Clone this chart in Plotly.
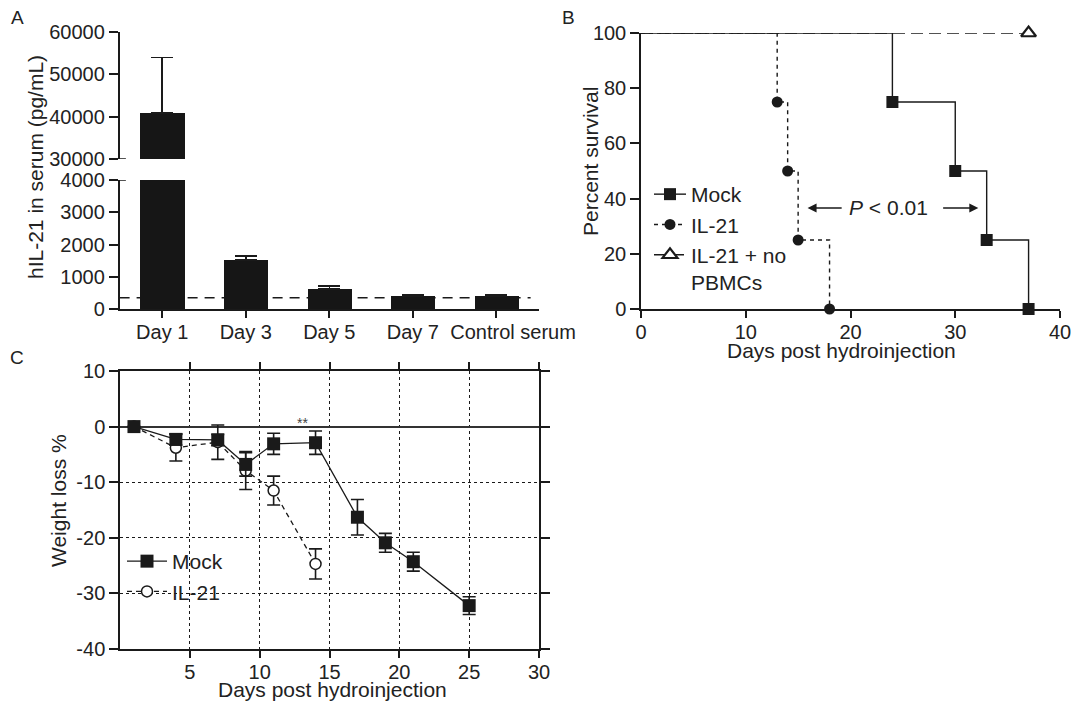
import plotly.graph_objects as go

# ---------------- Panel A data ----------------
a_categories = ["Day 1", "Day 3", "Day 5", "Day 7", "Control serum"]
a_values = [40800, 1520, 615, 400, 400]
a_errors = [13200, 125, 95, 30, 30]
a_detection_limit = 350
a_low_range = [0, 4000]
a_high_range = [30000, 60000]
a_low_ticks = [0, 1000, 2000, 3000, 4000]
a_high_ticks = [30000, 40000, 50000, 60000]

# ---------------- Panel B data ----------------
b_mock_days = [0, 24, 30, 33, 37]
b_mock_surv = [100, 75, 50, 25, 0]
b_il21_days = [0, 13, 14, 15, 18]
b_il21_surv = [100, 75, 50, 25, 0]
b_nopbmc_days = [0, 37]
b_nopbmc_surv = [100, 100]
b_x_ticks = [0, 10, 20, 30, 40]
b_y_ticks = [0, 20, 40, 60, 80, 100]

# ---------------- Panel C data ----------------
c_mock_days = [1, 4, 7, 9, 11, 14, 17, 19, 21, 25]
c_mock_weight = [0, -2.3, -2.4, -6.8, -3.1, -2.9, -16.3, -20.9, -24.3, -32.2]
c_mock_err = [0, 1.0, 1.0, 2.1, 1.9, 2.1, 3.2, 1.7, 1.7, 1.6]
c_il21_days = [1, 4, 7, 9, 11, 14]
c_il21_weight = [0, -3.8, -2.8, -7.9, -11.5, -24.7]
c_il21_err = [0, 2.4, 3.1, 3.4, 2.6, 2.7]
c_x_ticks = [5, 10, 15, 20, 25, 30]
c_y_ticks = [-40, -30, -20, -10, 0, 10]

FONT = "Liberation Sans, Arial, Helvetica, sans-serif"
INK = "#1a1a1a"
W, H = 1072, 701

fig = go.Figure()

# ---------- Panel A: broken-axis bars ----------
fig.add_trace(go.Bar(
    x=a_categories, y=a_values, width=0.53,
    marker=dict(color="#161616", line=dict(width=0)),
    error_y=dict(type="data", symmetric=False, array=a_errors,
                 arrayminus=[0] * len(a_errors), color=INK, thickness=1.6, width=11),
    xaxis="x", yaxis="y", showlegend=False))
hi_cats = [c for c, v in zip(a_categories, a_values) if v > a_high_range[0]]
hi_vals = [v for v in a_values if v > a_high_range[0]]
hi_errs = [e for v, e in zip(a_values, a_errors) if v > a_high_range[0]]
fig.add_trace(go.Bar(
    x=hi_cats, y=hi_vals, width=0.53,
    marker=dict(color="#161616", line=dict(width=0)),
    error_y=dict(type="data", symmetric=False, array=hi_errs,
                 arrayminus=[0] * len(hi_errs), color=INK, thickness=1.6, width=11),
    xaxis="x", yaxis="y2", showlegend=False))

# ---------- Panel B: survival step curves ----------
def step_pair(days, surv, dash, symbol, size, fill, lw_marker, name, rank):
    fig.add_trace(go.Scatter(
        x=days, y=surv, mode="lines", line=dict(shape="hv", color=INK, width=1.4, dash=dash),
        xaxis="x3", yaxis="y3", showlegend=False, cliponaxis=False, hoverinfo="skip"))
    fig.add_trace(go.Scatter(
        x=days[1:], y=surv[1:], mode="markers",
        marker=dict(symbol=symbol, size=size, color=fill, line=dict(color=INK, width=lw_marker)),
        xaxis="x3", yaxis="y3", showlegend=False, cliponaxis=False))
    fig.add_trace(go.Scatter(
        x=[None], y=[None], mode="lines+markers", name=name, legend="legend", legendrank=rank,
        line=dict(color=INK, width=1.4, dash=dash),
        marker=dict(symbol=symbol, size=size, color=fill, line=dict(color=INK, width=lw_marker)),
        xaxis="x3", yaxis="y3"))

step_pair(b_nopbmc_days, b_nopbmc_surv, "12px,6px", "triangle-up", 13, "white", 2.2,
          "IL-21 + no<br>PBMCs", 3)
step_pair(b_il21_days, b_il21_surv, "4px,4px", "circle", 11, INK, 0, "IL-21", 2)
step_pair(b_mock_days, b_mock_surv, "solid", "square", 12, INK, 0, "Mock", 1)

# ---------- Panel C: weight loss ----------
fig.add_trace(go.Scatter(
    x=c_il21_days, y=c_il21_weight, mode="lines+markers", name="IL-21",
    legend="legend2", legendrank=2,
    line=dict(color=INK, width=1.3, dash="5px,4px"),
    marker=dict(symbol="circle", size=11, color="white", line=dict(color=INK, width=1.5)),
    error_y=dict(type="data", array=c_il21_err, color=INK, thickness=1.6, width=6.5),
    xaxis="x4", yaxis="y4", cliponaxis=False))
fig.add_trace(go.Scatter(
    x=c_mock_days, y=c_mock_weight, mode="lines+markers", name="Mock",
    legend="legend2", legendrank=1,
    line=dict(color=INK, width=1.3),
    marker=dict(symbol="square", size=13, color=INK, line=dict(width=0)),
    error_y=dict(type="data", array=c_mock_err, color=INK, thickness=1.6, width=6.5),
    xaxis="x4", yaxis="y4", cliponaxis=False))

def px_x(p):
    return p / W

def px_y(p):
    return (H - p) / H

def txt(vals):
    return [str(v) for v in vals]

# last category label sits offset to the right in the original figure
a_ticktext = a_categories[:-1] + ["\u00a0" * 6 + a_categories[-1]]

tickfont = dict(family=FONT, size=20, color="#222")
common = dict(showline=True, linecolor=INK, linewidth=1.5, ticks="outside", tickcolor=INK,
              tickwidth=1.5, ticklen=9, tickfont=tickfont, showgrid=False, zeroline=False,
              automargin=False)
xcommon = {**common, "ticklen": 7}

fig.update_layout(
    width=W, height=H, margin=dict(l=0, r=0, t=0, b=0, autoexpand=False),
    paper_bgcolor="white", plot_bgcolor="rgba(0,0,0,0)",
    font=dict(family=FONT, color="#222"),
    bargap=0,
    xaxis=dict(domain=[px_x(119.6), px_x(539)], anchor="y", type="category",
               range=[-0.51, 4.51], tickangle=0, tickvals=a_categories, ticktext=a_ticktext,
               **xcommon),
    yaxis=dict(domain=[px_y(309), px_y(180)], anchor="x", range=a_low_range,
               tickvals=a_low_ticks, ticktext=txt(a_low_ticks), **common),
    yaxis2=dict(domain=[px_y(159), px_y(32)], anchor="x", range=a_high_range,
                tickvals=a_high_ticks, ticktext=txt(a_high_ticks), **common),
    xaxis3=dict(domain=[px_x(641), px_x(1060)], anchor="y3", range=[0, 40], tickangle=0,
                tickvals=b_x_ticks, ticktext=txt(b_x_ticks), **xcommon),
    yaxis3=dict(domain=[px_y(309), px_y(33)], anchor="x3", range=[0, 100],
                tickvals=b_y_ticks, ticktext=txt(b_y_ticks), **common),
    xaxis4=dict(domain=[px_x(120), px_x(539)], anchor="y4", range=[0, 30], tickangle=0,
                tickvals=c_x_ticks, ticktext=txt(c_x_ticks), mirror="ticks",
                **{**xcommon, "showgrid": True, "gridcolor": INK, "gridwidth": 1.2, "griddash": "dot"}),
    yaxis4=dict(domain=[px_y(649), px_y(371)], anchor="x4", range=[-40, 10],
                tickvals=c_y_ticks, ticktext=txt(c_y_ticks), mirror="ticks",
                **{**common, "showgrid": True, "gridcolor": INK, "gridwidth": 1.2, "griddash": "dot",
                   "zeroline": True, "zerolinecolor": "#333", "zerolinewidth": 1.8}),
    legend=dict(x=px_x(649), y=px_y(174), xanchor="left", yanchor="top",
                bgcolor="rgba(0,0,0,0)", font=dict(family=FONT, size=21, color="#222"),
                itemwidth=32, valign="top", traceorder="normal"),
    legend2=dict(x=px_x(122), y=px_y(541), xanchor="left", yanchor="top",
                 bgcolor="rgba(0,0,0,0)", font=dict(family=FONT, size=21, color="#222"),
                 itemwidth=40, traceorder="normal"),
)

# pull x tick labels slightly closer to their axes
try:
    fig.update_xaxes(ticklabelstandoff=-3)
except Exception:
    pass

shapes = [
    # detection limit line in panel A
    dict(type="line", xref="x domain", yref="y", x0=0.0, x1=0.98,
         y0=a_detection_limit, y1=a_detection_limit, layer="below",
         line=dict(color=INK, width=1.5, dash="10px,7px")),
    # axis break marks
    dict(type="line", xref="x domain", yref="y2", x0=0, x1=0.015,
         y0=a_high_range[0], y1=a_high_range[0], line=dict(color=INK, width=1.5)),
    dict(type="line", xref="x domain", yref="y", x0=0, x1=0.015,
         y0=a_low_range[1], y1=a_low_range[1], line=dict(color=INK, width=1.5)),
]
fig.update_layout(shapes=shapes)

ann = []
def label(text, x, y, size=21, angle=0, **kw):
    ann.append(dict(text=text, x=px_x(x), y=px_y(y), xref="paper", yref="paper",
                    showarrow=False, textangle=angle, xanchor="center", yanchor="middle",
                    font=dict(family=FONT, size=size, color="#222"), **kw))

label("A", 17, 17, size=19)
label("B", 568, 17, size=19)
label("C", 17, 357, size=19)
label("hIL-21 in serum (pg/mL)", 35, 167, angle=-90)
label("Percent survival", 590, 162, angle=-90)
label("Days post hydroinjection", 841, 351)
label("Weight loss %", 58, 500, angle=-90)
label("Days post hydroinjection", 332, 689)

# P-value annotation (panel B)
ann.append(dict(text="<i>P</i> < 0.01", x=23.6, y=36.6, xref="x3", yref="y3", showarrow=False,
                font=dict(family=FONT, size=21, color="#222")))
ann.append(dict(text="", x=15.9, y=36.6, ax=19.3, ay=36.6, xref="x3", yref="y3",
                axref="x3", ayref="y3", showarrow=True, arrowhead=2, arrowsize=1.2,
                arrowwidth=1.5, arrowcolor=INK))
ann.append(dict(text="", x=32.2, y=36.6, ax=28.7, ay=36.6, xref="x3", yref="y3",
                axref="x3", ayref="y3", showarrow=True, arrowhead=2, arrowsize=1.2,
                arrowwidth=1.5, arrowcolor=INK))
# significance mark (panel C)
ann.append(dict(text="**", x=13.1, y=0, xref="x4", yref="y4", showarrow=False,
                yanchor="bottom", yshift=-6, font=dict(family=FONT, size=14, color="#444")))
fig.update_layout(annotations=ann)

fig.write_html(
    "out.html",
    config={"displayModeBar": False},
    post_script="document.body.style.margin='0px';document.body.style.padding='0px';"
                "document.documentElement.style.overflow='hidden';",
)
